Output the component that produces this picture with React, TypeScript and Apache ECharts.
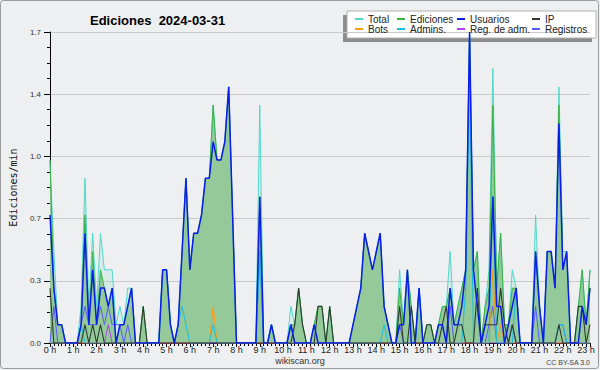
import React, { useEffect, useRef } from "react";
import * as echarts from "echarts";

// 10-minute buckets, 00:00 .. 23:10 (edits per minute)
const total = [
  1.0, 0.5, 0.1, 0.1, 0, 0,
  0, 0, 0.2, 0.9, 0.2, 0.6,
  0.2, 0.6, 0.4, 0.4, 0.4, 0.1,
  0.2, 0.1, 0.3, 0.3, 0, 0,
  0.2, 0, 0, 0, 0, 0.4,
  0.4, 0.1, 0, 0.1, 0.5, 0.9,
  0.4, 0.6, 0.6, 0.7, 0.9, 0.9,
  1.3, 1.0, 1.0, 1.1, 1.4, 0.7,
  0, 0, 0, 0, 0, 0,
  1.3, 0, 0, 0.1, 0, 0,
  0, 0, 0.2, 0.1, 0.3, 0.1,
  0, 0, 0.1, 0.2, 0.2, 0,
  0.2, 0, 0, 0, 0, 0,
  0.1, 0.2, 0.3, 0.6, 0.5, 0.4,
  0.5, 0.6, 0.2, 0.1, 0, 0,
  0.4, 0.1, 0.4, 0.2, 0, 0.3,
  0, 0.1, 0.1, 0, 0.1, 0.2,
  0.2, 0.5, 0.1, 0.2, 0.3, 0.4,
  1.7, 0.4, 0.5, 0, 0.2, 0.4,
  1.5, 0.3, 0.6, 0.1, 0.1, 0.4,
  0.3, 0, 0, 0, 0, 0.7,
  0.2, 0, 0.5, 0.5, 0.3, 1.4,
  0.5, 0.5, 0, 0, 0.2, 0.4,
  0.1, 0.4,
];

const ediciones = [
  1.0, 0.3, 0.1, 0.1, 0, 0,
  0, 0, 0.1, 0.7, 0.1, 0.5,
  0.1, 0.4, 0.3, 0.2, 0.3, 0,
  0.1, 0.1, 0.2, 0.3, 0, 0,
  0.2, 0, 0, 0, 0, 0.4,
  0.4, 0.1, 0, 0.1, 0.5, 0.9,
  0.4, 0.6, 0.6, 0.7, 0.9, 0.9,
  1.3, 1.0, 1.0, 1.1, 1.4, 0.7,
  0, 0, 0, 0, 0, 0,
  0.8, 0, 0, 0.1, 0, 0,
  0, 0, 0.1, 0.1, 0.3, 0.1,
  0, 0, 0.1, 0.2, 0.2, 0,
  0.2, 0, 0, 0, 0, 0,
  0.1, 0.2, 0.3, 0.6, 0.5, 0.4,
  0.5, 0.6, 0.2, 0.1, 0, 0,
  0.3, 0.1, 0.4, 0.2, 0, 0.3,
  0, 0.1, 0.1, 0, 0.1, 0.2,
  0.2, 0.3, 0.1, 0.2, 0.3, 0.4,
  1.7, 0.4, 0.5, 0, 0.2, 0.3,
  1.3, 0.3, 0.6, 0.1, 0.1, 0.3,
  0.3, 0, 0, 0, 0, 0.5,
  0.2, 0, 0.5, 0.5, 0.3, 1.3,
  0.4, 0.5, 0, 0, 0.2, 0.4,
  0.1, 0.4,
];

const usuarios = [
  0.7, 0.3, 0.1, 0.1, 0, 0,
  0, 0, 0.1, 0.6, 0.1, 0.4,
  0.1, 0.3, 0.3, 0.2, 0.3, 0,
  0.1, 0.1, 0.2, 0.3, 0, 0,
  0, 0, 0, 0, 0, 0.4,
  0.4, 0.1, 0, 0.1, 0.5, 0.9,
  0.4, 0.6, 0.6, 0.7, 0.9, 0.9,
  1.1, 1.0, 1.0, 1.1, 1.4, 0.7,
  0, 0, 0, 0, 0, 0,
  0.8, 0, 0, 0.1, 0, 0,
  0, 0, 0.1, 0, 0, 0,
  0, 0, 0.1, 0, 0, 0,
  0, 0, 0, 0, 0, 0,
  0.1, 0.2, 0.3, 0.6, 0.5, 0.4,
  0.5, 0.6, 0.2, 0.1, 0, 0,
  0.1, 0.1, 0.4, 0, 0, 0.3,
  0, 0, 0, 0, 0.1, 0.1,
  0, 0.3, 0.1, 0.1, 0.2, 0.4,
  1.7, 0.4, 0.2, 0, 0.1, 0.2,
  0.8, 0.2, 0.2, 0, 0.1, 0.2,
  0.3, 0, 0, 0, 0, 0.5,
  0.2, 0, 0.5, 0.5, 0.3, 1.2,
  0.4, 0.5, 0, 0, 0, 0.2,
  0.1, 0.3,
];

const ip = [
  0.3, 0, 0, 0, 0, 0,
  0, 0, 0, 0.1, 0, 0.1,
  0, 0.1, 0, 0, 0, 0,
  0, 0, 0, 0, 0, 0,
  0.2, 0, 0, 0, 0, 0,
  0, 0, 0, 0, 0, 0,
  0, 0, 0, 0, 0, 0,
  0, 0, 0, 0, 0, 0,
  0, 0, 0, 0, 0, 0,
  0, 0, 0, 0, 0, 0,
  0, 0, 0, 0.1, 0.3, 0.1,
  0, 0, 0, 0.2, 0.2, 0,
  0.2, 0, 0, 0, 0, 0,
  0, 0, 0, 0, 0, 0,
  0, 0, 0, 0, 0, 0,
  0.2, 0, 0, 0.2, 0, 0,
  0, 0.1, 0.1, 0, 0, 0.1,
  0.2, 0, 0, 0.1, 0.1, 0,
  0, 0, 0.3, 0, 0.1, 0.1,
  0.1, 0.1, 0.3, 0.1, 0, 0.1,
  0, 0, 0, 0, 0, 0,
  0, 0, 0, 0, 0, 0.1,
  0, 0, 0, 0, 0.2, 0.2,
  0, 0.1,
];

const bots = [
  0, 0, 0, 0, 0, 0,
  0, 0, 0, 0, 0, 0,
  0, 0, 0, 0, 0, 0,
  0, 0, 0, 0, 0, 0,
  0, 0, 0, 0, 0, 0,
  0, 0, 0, 0, 0, 0,
  0, 0, 0, 0, 0, 0,
  0.2, 0, 0, 0, 0, 0,
  0, 0, 0, 0, 0, 0,
  0, 0, 0, 0, 0, 0,
  0, 0, 0, 0, 0, 0,
  0, 0, 0, 0, 0, 0,
  0, 0, 0, 0, 0, 0,
  0, 0, 0, 0, 0, 0,
  0, 0, 0, 0, 0, 0,
  0, 0, 0, 0, 0, 0,
  0, 0, 0, 0, 0, 0,
  0, 0, 0, 0, 0, 0,
  0, 0, 0, 0, 0, 0,
  0.4, 0, 0.1, 0, 0, 0,
  0, 0, 0, 0, 0, 0,
  0, 0, 0, 0, 0, 0,
  0, 0, 0, 0, 0, 0,
  0, 0,
];

const admins = [
  0, 0, 0, 0, 0, 0,
  0, 0, 0.1, 0, 0, 0,
  0, 0, 0, 0, 0, 0,
  0, 0, 0, 0, 0, 0,
  0, 0, 0, 0, 0, 0.4,
  0.4, 0.1, 0, 0.1, 0.2, 0.1,
  0, 0, 0, 0, 0, 0,
  0.1, 0, 0, 0, 0, 0,
  0, 0, 0, 0, 0, 0,
  0.5, 0, 0, 0.1, 0, 0,
  0, 0, 0, 0, 0, 0,
  0, 0, 0, 0, 0, 0,
  0, 0, 0, 0, 0, 0,
  0, 0, 0, 0, 0, 0,
  0, 0, 0.1, 0, 0, 0,
  0, 0, 0, 0, 0, 0.3,
  0, 0, 0, 0, 0, 0,
  0, 0, 0, 0, 0, 0.3,
  1.5, 0, 0, 0, 0, 0,
  0.8, 0, 0, 0, 0, 0,
  0.3, 0, 0, 0, 0, 0,
  0, 0, 0, 0, 0, 0.1,
  0.1, 0, 0, 0, 0, 0,
  0, 0,
];

const regAdm = [
  0, 0, 0, 0, 0, 0,
  0, 0, 0, 0, 0, 0,
  0, 0, 0, 0.1, 0, 0,
  0, 0, 0, 0, 0, 0,
  0, 0, 0, 0, 0, 0,
  0, 0, 0, 0, 0, 0,
  0, 0, 0, 0, 0, 0,
  0, 0, 0, 0, 0, 0,
  0, 0, 0, 0, 0, 0,
  0, 0, 0, 0, 0, 0,
  0, 0, 0, 0, 0, 0,
  0, 0, 0, 0, 0, 0,
  0, 0, 0, 0, 0, 0,
  0, 0, 0, 0, 0, 0,
  0, 0, 0, 0, 0, 0,
  0, 0, 0, 0, 0, 0,
  0, 0, 0, 0, 0, 0,
  0, 0, 0, 0, 0, 0,
  0, 0, 0, 0, 0, 0,
  0, 0, 0, 0, 0, 0,
  0, 0, 0, 0, 0, 0,
  0, 0, 0, 0, 0, 0,
  0, 0, 0, 0, 0, 0,
  0, 0,
];

const registros = [
  0, 0.2, 0, 0, 0, 0,
  0, 0, 0.1, 0.2, 0.1, 0.1,
  0.1, 0.2, 0.1, 0.2, 0.1, 0.1,
  0.1, 0, 0.1, 0, 0, 0,
  0, 0, 0, 0, 0, 0,
  0, 0, 0, 0, 0, 0,
  0, 0, 0, 0, 0, 0,
  0, 0, 0, 0, 0, 0,
  0, 0, 0, 0, 0, 0,
  0.5, 0, 0, 0, 0, 0,
  0, 0, 0.1, 0, 0, 0,
  0, 0, 0, 0, 0, 0,
  0, 0, 0, 0, 0, 0,
  0, 0, 0, 0, 0, 0,
  0, 0, 0, 0, 0, 0,
  0.1, 0, 0, 0, 0, 0,
  0, 0, 0, 0, 0, 0,
  0, 0.2, 0, 0, 0, 0,
  0, 0, 0, 0, 0, 0.1,
  0.2, 0, 0, 0, 0, 0.1,
  0, 0, 0, 0, 0, 0.2,
  0, 0, 0, 0, 0, 0.1,
  0.1, 0, 0, 0, 0, 0,
  0, 0,
];

const yTicks = [0, 0.34, 0.68, 1.02, 1.36, 1.7];
const hourLabelSuffix = " h";

const pts = (arr: number[]) => arr.map((v, i) => [i / 6, v]);

const FONT = "Liberation Sans";

function lineSeries(name: string, data: number[], color: string, width = 1, extra: any = {}) {
  return {
    name,
    type: "line",
    data: pts(data),
    color,
    symbol: "none",
    showSymbol: false,
    lineStyle: { color, width },
    emphasis: { disabled: true },
    ...extra,
  };
}

function legendCol(names: string[], left: number) {
  return {
    data: names,
    orient: "vertical",
    left,
    top: 14,
    itemWidth: 8,
    itemHeight: 2,
    icon: "rect",
    itemGap: 0,
    padding: 0,
    selectedMode: false,
    textStyle: { fontSize: 10, fontFamily: FONT, color: "#222", lineHeight: 10 },
  };
}

export default function App() {
  const ref = useRef<HTMLDivElement>(null);
  useEffect(() => {
    const chart = echarts.init(ref.current!, null, { renderer: "svg" });
    const option: any = {
      animation: false,
      backgroundColor: "#eeeff0",
      title: {
        text: "Ediciones  2024-03-31",
        left: 85,
        top: 9,
        textStyle: { fontFamily: FONT, fontSize: 13, fontWeight: "bold", color: "#000" },
      },
      legend: [
        legendCol(["Total", "Bots"], 355),
        legendCol(["Ediciones", "Admins."], 397),
        legendCol(["Usuarios", "Reg. de adm."], 457),
        legendCol(["IP", "Registros"], 532),
      ],
      grid: { left: 46, right: 10, top: 32, bottom: 27, containLabel: false },
      xAxis: {
        type: "value",
        min: 0,
        max: 139 / 6,
        interval: 1,
        axisLine: { show: true, onZero: false, lineStyle: { color: "#000", width: 1 } },
        axisTick: { show: true, length: 4, lineStyle: { color: "#000" } },
        minorTick: { show: true, splitNumber: 6, length: 3, lineStyle: { color: "#000" } },
        axisLabel: {
          formatter: (v: number) => Math.round(v) + hourLabelSuffix,
          fontSize: 9,
          fontFamily: FONT,
          color: "#222",
          margin: 2,
          showMaxLabel: false,
        },
        splitLine: { show: false },
      },
      yAxis: {
        type: "value",
        min: yTicks[0],
        max: yTicks[yTicks.length - 1],
        interval: yTicks[1],
        name: "Ediciones/min",
        nameLocation: "middle",
        nameGap: 32,
        nameTextStyle: { fontFamily: "DejaVu Sans Mono", fontSize: 10, color: "#111" },
        axisLine: { show: true, lineStyle: { color: "#000", width: 1 } },
        axisTick: { show: true, length: 6, lineStyle: { color: "#000" } },
        minorTick: { show: true, splitNumber: 4, length: 3, lineStyle: { color: "#000" } },
        axisLabel: {
          formatter: (v: number) => v.toFixed(1),
          fontSize: 8,
          fontFamily: FONT,
          color: "#333",
          margin: 9,
        },
        splitLine: { show: true, lineStyle: { color: "#c9c9c9", width: 1 } },
      },
      graphic: [
        {
          type: "rect",
          z: -1,
          shape: { x: 0.5, y: 0.5, width: 598, height: 368, r: 3 },
          style: { fill: "none", stroke: "#9a9a9a", lineWidth: 1 },
        },
        {
          type: "rect",
          shape: { x: 343, y: 15, width: 249, height: 27 },
          style: { fill: "#8c8c8c" },
        },
        {
          type: "rect",
          shape: { x: 347, y: 11, width: 249, height: 27 },
          style: { fill: "#ffffff", stroke: "#b0b0b0", lineWidth: 1 },
        },
        {
          type: "text",
          x: 300,
          y: 361,
          style: {
            text: "wikiscan.org",
            fontSize: 9,
            fontFamily: FONT,
            fill: "#333",
            align: "center",
            verticalAlign: "middle",
          },
        },
        {
          type: "text",
          x: 590,
          y: 362,
          style: {
            text: "CC BY-SA 3.0",
            fontSize: 7,
            fontFamily: FONT,
            fill: "#444",
            align: "right",
            verticalAlign: "middle",
          },
        },
      ],
      series: [
        lineSeries("Total", total, "#4fd8ca", 1, {
          areaStyle: { color: "rgba(80,216,202,0.15)", opacity: 1 },
        }),
        lineSeries("Ediciones", ediciones, "#3cb043", 1, {
          areaStyle: { color: "#94c99a", opacity: 1 },
        }),
        lineSeries("Registros", registros, "#5a5aff", 1),
        lineSeries("Reg. de adm.", regAdm, "#b040f0", 1),
        lineSeries("Bots", bots, "#ff9a10", 1),
        lineSeries("Admins.", admins, "#18c0e0", 1),
        lineSeries("IP", ip, "#2e3a2e", 1.1),
        lineSeries("Usuarios", usuarios, "#0a1ee8", 1.5),
      ],
    };
    chart.setOption(option);
    return () => chart.dispose();
  }, []);
  return (
    <div
      ref={ref}
      style={{ position: "absolute", left: 0, top: 0, width: 600, height: 370 }}
    />
  );
}
